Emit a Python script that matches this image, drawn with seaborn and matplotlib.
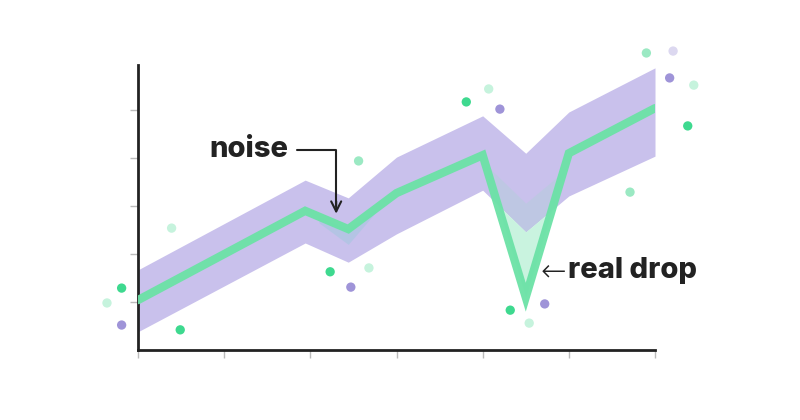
import numpy as np
import pandas as pd
import matplotlib.pyplot as plt
import seaborn as sns

sns.set_theme(style="white")
plt.rcParams['font.family'] = ['Inter', 'DejaVu Sans']

# trend line and its uncertainty band
line_x = [0, 1.94, 2.44, 3, 4, 4.5, 5, 6]
line_y = [1.04, 2.90, 2.52, 3.27, 4.06, 1.10, 4.10, 5.04]
band_hi = [1.67, 3.54, 3.17, 4.02, 4.88, 4.10, 4.96, 5.88]
band_lo = [0.38, 2.23, 1.83, 2.42, 3.33, 2.46, 3.21, 4.04]

# small shaded dip under the "noise" wiggle
noise_x = [2.1, 2.44, 2.75]
noise_lo = [2.65, 2.2, 2.85]

# scattered observations
dot_x = [-0.19, -0.36, -0.19, 0.49, 0.39, 2.23, 2.47, 2.68, 2.56, 3.81, 4.07,
         4.20, 4.32, 4.72, 4.54, 5.71, 5.90, 6.21, 6.17, 6.45, 6.38]
dot_y = [1.29, 0.98, 0.52, 0.42, 2.54, 1.63, 1.31, 1.71, 3.94, 5.17, 5.44,
         5.02, 0.83, 0.96, 0.56, 3.29, 6.19, 6.23, 5.67, 5.52, 4.67]
dot_kind = ["green", "mint", "purple", "green", "mint", "green", "purple", "mint",
            "midgreen", "green", "mint", "purple", "green", "purple", "mint",
            "midgreen", "midgreen", "lilac", "purple", "mint", "green"]

palette = {"green": "#3ed98f", "mint": "#c6f3dd", "midgreen": "#9be9c3",
           "purple": "#9f94d8", "lilac": "#dcd8f0"}

GREEN = "#6be2a6"
BAND = "#c9c1ec"
INK = "#222222"

fig = plt.figure(figsize=(8, 4.2), dpi=100)
ax = fig.add_axes([0.1725, 0.1667, 0.64625, 0.6786])

ax.fill_between(line_x, band_lo, band_hi, color=BAND, lw=0, zorder=1)

# faint shade under the noise wiggle
noise_top = np.interp(noise_x, line_x, line_y)
ax.fill_between(noise_x, noise_lo, noise_top, color="#9cc9dc", alpha=0.45,
                lw=0, zorder=2)

# light fill of the real drop below the band
xs = np.linspace(4, 5, 200)
line_i = np.interp(xs, line_x, line_y)
lo_i = np.interp(xs, line_x, band_lo)
ax.fill_between(xs, line_i, lo_i, where=line_i < lo_i, interpolate=True,
                color="#d6f7e7", lw=0, zorder=2)
ax.fill_between(xs, line_i, np.minimum(lo_i + 0.6, 4.0), where=line_i < lo_i + 0.6,
                interpolate=True, color="#8fe6bd", alpha=0.18, lw=0, zorder=2)

df_line = pd.DataFrame({"x": line_x, "y": line_y})
sns.lineplot(data=df_line, x="x", y="y", ax=ax, color=GREEN, lw=6, alpha=0.95,
             sort=False, zorder=3, solid_joinstyle="miter")

df_dots = pd.DataFrame({"x": dot_x, "y": dot_y, "kind": dot_kind})
sns.scatterplot(data=df_dots, x="x", y="y", hue="kind", palette=palette, s=45,
                edgecolor="none", ax=ax, legend=False, clip_on=False, zorder=4)

ax.set_xlim(0, 6)
ax.set_ylim(0, 5.94)
ax.set_xticks(range(0, 7))
ax.set_yticks(range(1, 6))
ax.set_xticklabels([])
ax.set_yticklabels([])
ax.set_xlabel("")
ax.set_ylabel("")
for side in ["top", "right"]:
    ax.spines[side].set_visible(False)
for side in ["left", "bottom"]:
    ax.spines[side].set_color(INK)
    ax.spines[side].set_linewidth(2)
ax.tick_params(axis="both", length=6, width=1, color="#bbbbbb", left=True, bottom=True)

# annotations
ax.text(1.74, 4.02, "noise", ha="right", va="baseline", fontsize=21,
        fontweight=800, color=INK)
ax.plot([1.85, 2.30, 2.30], [4.17, 4.17, 3.0], color=INK, lw=1.5, zorder=5,
        clip_on=False)
ax.annotate("", xy=(2.30, 2.84), xytext=(2.30, 3.1),
            arrowprops=dict(arrowstyle="->", color=INK, lw=1.5,
                            mutation_scale=18, shrinkA=0, shrinkB=0), zorder=5)

ax.text(4.82, 1.62, "←", ha="center", va="center", fontsize=22,
        color=INK, family=["DejaVu Sans"], fontweight="light")
ax.text(4.99, 1.50, "real drop", ha="left", va="baseline", fontsize=21,
        fontweight=800, color=INK, clip_on=False)

fig.savefig("out.png", dpi=100, facecolor="white")
